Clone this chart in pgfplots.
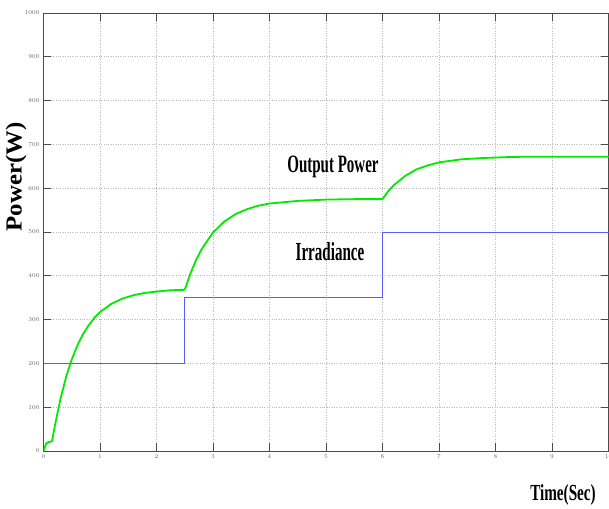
\documentclass[border=0pt]{standalone}
\usepackage{pgfplots}
\pgfplotsset{compat=1.18}
\usepackage{fontspec}
\setmainfont{Liberation Serif}
\definecolor{pgreen}{RGB}{0,235,0}
\definecolor{iblue}{RGB}{90,90,255}
\begin{document}
\begin{tikzpicture}
\useasboundingbox (0,0) rectangle (609pt,508pt);
\begin{axis}[at={(43.5pt,57pt)}, anchor=south west, scale only axis,
  width=565pt, height=438pt,
  xmin=0, xmax=10, ymin=0, ymax=1000,
  xtick={0,1,...,10}, ytick={0,100,...,1000},
  /pgf/number format/1000 sep={},
  grid=major, major grid style={gray!55, dotted, line width=0.6pt},
  tick align=inside, major tick length=8pt,
  tick style={gray!60!black, line width=0.6pt},
  axis line style={gray!60!black, line width=0.8pt},
  ticklabel style={font=\fontsize{6}{6}\selectfont, text=gray!80!black},
  xticklabel style={yshift=-0.5pt},
  yticklabel style={xshift=-0.5pt},
]
\addplot[iblue, line width=0.6pt] coordinates {
(0,200)(2.5,200)(2.5,350)(6,350)(6,500)(10,500)};
\addplot[pgreen, line width=1.8pt, line join=round] coordinates {
(0,0)(0.05,18)(0.08,20)(0.15,22)(0.2,57)(0.3,119)(0.4,169)(0.5,209)(0.6,241)
(0.7,267)(0.8,287)(0.9,304)(1.0,317)(1.2,336)(1.4,348)(1.6,356)(1.8,361)
(2.0,364)(2.25,367)(2.5,368)
(2.6,405)(2.7,436)(2.8,461)(3.0,499)(3.2,524)(3.4,541)(3.6,552)(3.8,560)
(4.0,565)(4.5,571)(5.0,574)(5.5,575)(6.0,575)
(6.1,593)(6.2,607)(6.4,628)(6.6,643)(6.8,652)(7.0,659)(7.4,666)(7.8,669)
(8.2,671)(8.6,672)(9.0,672)(10,672)};
\end{axis}
\node[font=\bfseries\fontsize{25}{25}\selectfont, xscale=0.6] at (333pt,341pt) {Output Power};
\node[font=\bfseries\fontsize{26}{26}\selectfont, xscale=0.58] at (330pt,256pt) {Irradiance};
\node[font=\bfseries\fontsize{23}{23}\selectfont, xscale=0.66] at (563pt,13pt) {Time(Sec)};
\node at (16pt,331pt) {\rotatebox{90}{\scalebox{1.08}[1]{\bfseries\fontsize{23}{23}\selectfont Power(W)}}};
\end{tikzpicture}
\end{document}
